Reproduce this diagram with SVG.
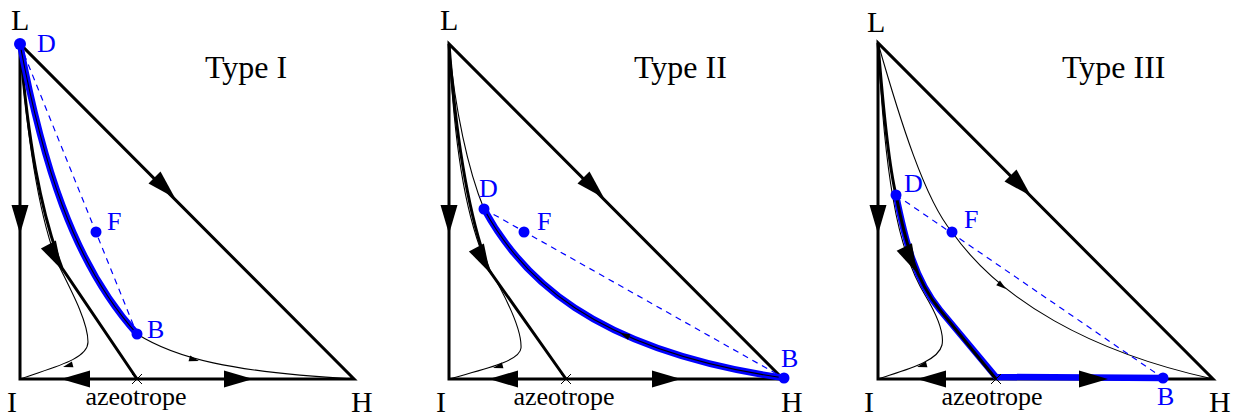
<svg xmlns="http://www.w3.org/2000/svg" width="1238" height="417" viewBox="0 0 1238 417" font-family="'Liberation Serif','Times New Roman',serif">
<style>
.edge{fill:none;stroke:#000;stroke-width:3;stroke-linejoin:miter}
.thick{fill:none;stroke:#000;stroke-width:3}
.thin{fill:none;stroke:#000;stroke-width:1.1}
.blue{fill:none;stroke:#0000ff;stroke-width:6.5;stroke-linejoin:round}
.dash{fill:none;stroke:#0000ff;stroke-width:1.2;stroke-dasharray:6 5}
.dot{fill:#0000ff}
.ah{fill:#000}
.cross{fill:none;stroke:#000;stroke-width:1}
text{font-family:'Liberation Serif','Times New Roman',serif}
.lbl{font-size:30px;fill:#000}
.title{font-size:32px;fill:#000}
.az{font-size:26px;fill:#000}
.bl{font-size:26px;fill:#0000ff}
</style>
<defs>
<path id="big" d="M0,0 L-29,-8.5 L-29,8.5 Z"/>
<path id="small" d="M0,0 L-10,-3 L-10,3 Z"/>
</defs>

<!-- Panel 1: Type I -->
<g id="panel1">
  <g id="p1-connectors">
    <path class="edge" d="M20,44 L20,379 L354,379 Z"/>
    <path class="thin" d="M20,44 C27,140 38,212 57,262 C72,292 88,322 88,342 C88,360 50,368 20,379"/>
    <path class="thick" d="M20,44 C28,140 40,210 62,268 L137,379"/>
    <path class="blue" d="M20,44 C42,160 72,262 137,334"/>
    <path class="thin" d="M20,44 C42,160 72,262 137,334 C175,358 230,372 354,379"/>
    <path class="dash" d="M20,44 L137,334"/>
    <path class="cross" d="M132,374 L142,384 M142,374 L132,384"/>
    <use href="#big" class="ah" transform="translate(20,234) rotate(90)"/>
    <use href="#big" class="ah" transform="translate(61,379) rotate(180)"/>
    <use href="#big" class="ah" transform="translate(253,379)"/>
    <use href="#big" class="ah" transform="translate(175,198) rotate(45)"/>
    <use href="#big" class="ah" transform="translate(62,270) rotate(62)"/>
    <use href="#small" class="ah" transform="translate(63,367) rotate(165)"/>
    <use href="#small" class="ah" transform="translate(199,361) rotate(15)"/>
  </g>
  <g id="p1-L"><text class="lbl" x="11" y="30">L</text></g>
  <g id="p1-I"><text class="lbl" x="7" y="412">I</text></g>
  <g id="p1-H"><text class="lbl" x="351" y="412">H</text></g>
  <g id="p1-az"><text class="az" x="136" y="405" text-anchor="middle">azeotrope</text></g>
  <g id="p1-title"><text class="title" x="205" y="78">Type I</text></g>
  <g id="p1-D"><circle class="dot" cx="20" cy="44" r="6"/><text class="bl" x="37" y="52">D</text></g>
  <g id="p1-F"><circle class="dot" cx="96" cy="232" r="5.5"/><text class="bl" x="107" y="230">F</text></g>
  <g id="p1-B"><circle class="dot" cx="137" cy="334" r="5.5"/><text class="bl" x="147" y="338">B</text></g>
</g>

<!-- Panel 2: Type II -->
<g id="panel2">
  <g id="p2-connectors">
    <path class="edge" d="M449,44 L449,379 L783,379 Z"/>
    <path class="thin" d="M449,44 C454,140 464,212 486,263 C508,300 522,330 521,348 C520,362 480,370 449,379"/>
    <path class="thick" d="M449,44 C456,140 468,215 489,270 L566,379"/>
    <path class="blue" d="M484,209 C520,275 590,350 784,378"/>
    <path class="thin" d="M449,44 C455,110 468,170 484,209 C520,275 590,350 784,378"/>
    <path class="dash" d="M484,209 L784,378"/>
    <path class="cross" d="M561,374 L571,384 M571,374 L561,384"/>
    <use href="#big" class="ah" transform="translate(449,234) rotate(90)"/>
    <use href="#big" class="ah" transform="translate(489,379) rotate(180)"/>
    <use href="#big" class="ah" transform="translate(681,379)"/>
    <use href="#big" class="ah" transform="translate(604,198) rotate(45)"/>
    <use href="#big" class="ah" transform="translate(490,273) rotate(62)"/>
    <use href="#small" class="ah" transform="translate(493,368) rotate(165)"/>
    <use href="#small" class="ah" transform="translate(620,333) rotate(203)"/>
  </g>
  <g id="p2-L"><text class="lbl" x="440" y="30">L</text></g>
  <g id="p2-I"><text class="lbl" x="436" y="412">I</text></g>
  <g id="p2-H"><text class="lbl" x="781" y="412">H</text></g>
  <g id="p2-az"><text class="az" x="564" y="405" text-anchor="middle">azeotrope</text></g>
  <g id="p2-title"><text class="title" x="634" y="78">Type II</text></g>
  <g id="p2-D"><circle class="dot" cx="484" cy="209" r="5.5"/><text class="bl" x="479" y="197">D</text></g>
  <g id="p2-F"><circle class="dot" cx="524" cy="232" r="5.5"/><text class="bl" x="537" y="230">F</text></g>
  <g id="p2-B"><circle class="dot" cx="784" cy="378" r="5.5"/><text class="bl" x="781" y="367">B</text></g>
</g>

<!-- Panel 3: Type III -->
<g id="panel3">
  <g id="p3-connectors">
    <path class="edge" d="M878,43 L878,379 L1213,379 Z"/>
    <path class="thin" d="M878,43 C882,120 888,170 893,198 C900,240 910,270 925,295 C940,320 944,335 942,345 C938,362 905,370 878,379"/>
    <path class="thin" d="M878,43 C900,120 925,200 952,232 C1000,300 1090,352 1213,379"/>
    <path class="blue" d="M896,195 C905,240 915,280 940,310 L996,377 L1163,378"/>
    <path class="thick" d="M878,43 C884,120 890,170 896,195 C905,240 915,280 940,310 L996,379"/>
    <path class="dash" d="M896,195 L1163,378"/>
    <path class="cross" d="M991,374 L1001,384 M1001,374 L991,384"/>
    <use href="#big" class="ah" transform="translate(878,234) rotate(90)"/>
    <use href="#big" class="ah" transform="translate(917,379) rotate(180)"/>
    <use href="#big" class="ah" transform="translate(1108,379)"/>
    <use href="#big" class="ah" transform="translate(1031,196) rotate(45)"/>
    <use href="#big" class="ah" transform="translate(917,273) rotate(64)"/>
    <use href="#small" class="ah" transform="translate(917,367) rotate(165)"/>
    <use href="#small" class="ah" transform="translate(1006,289) rotate(38)"/>
  </g>
  <g id="p3-L"><text class="lbl" x="867" y="32">L</text></g>
  <g id="p3-I"><text class="lbl" x="864" y="412">I</text></g>
  <g id="p3-H"><text class="lbl" x="1209" y="412">H</text></g>
  <g id="p3-az"><text class="az" x="992" y="405" text-anchor="middle">azeotrope</text></g>
  <g id="p3-title"><text class="title" x="1062" y="78">Type III</text></g>
  <g id="p3-D"><circle class="dot" cx="896" cy="195" r="5.5"/><text class="bl" x="904" y="192">D</text></g>
  <g id="p3-F"><circle class="dot" cx="952" cy="232" r="5.5"/><text class="bl" x="964" y="228">F</text></g>
  <g id="p3-B"><circle class="dot" cx="1163" cy="378" r="5.5"/><text class="bl" x="1157" y="405">B</text></g>
</g>
</svg>
